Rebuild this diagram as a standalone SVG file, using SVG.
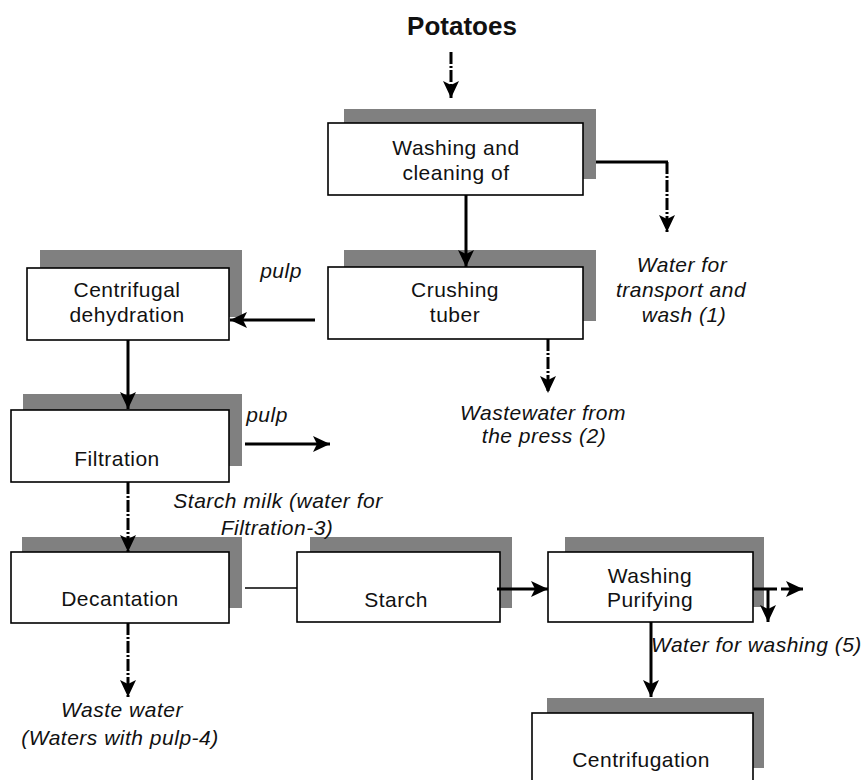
<svg xmlns="http://www.w3.org/2000/svg" width="866" height="780" viewBox="0 0 866 780">
<style>
.shadow{fill:#808080;stroke:none}
.box{fill:#ffffff;stroke:#000000;stroke-width:1.6}
.lbl{font-family:"Liberation Sans",Arial,sans-serif;font-size:21px;letter-spacing:0.5px;fill:#111111;text-anchor:middle}
.it{font-family:"Liberation Sans",Arial,sans-serif;font-size:21px;letter-spacing:0.5px;font-style:italic;fill:#111111}
.title{font-family:"Liberation Sans",Arial,sans-serif;font-size:26px;font-weight:bold;fill:#111111;text-anchor:middle}
.arr{stroke:#000000;stroke-width:3;fill:none}
.dash{stroke:#000000;stroke-width:3;fill:none;stroke-dasharray:12 2 2 2}
.thin{stroke:#000000;stroke-width:1.5;fill:none}
</style>
<defs>
<marker id="ah" markerUnits="userSpaceOnUse" markerWidth="17" markerHeight="16" refX="17" refY="8" orient="auto" viewBox="0 0 17 16">
<path d="M0,0 L17,8 L0,16 L4,8 z" fill="#000000"/>
</marker>
</defs>
<rect width="866" height="780" fill="#ffffff"/>

<text class="title" x="462" y="35">Potatoes</text>

<g id="washing">
<rect class="shadow" x="344" y="109" width="252" height="70"/>
<rect class="box" x="328" y="123" width="255" height="72"/>
<text class="lbl" x="456" y="155">Washing and</text>
<text class="lbl" x="456" y="180">cleaning of</text>
</g>

<g id="crushing">
<rect class="shadow" x="344" y="250" width="252" height="71"/>
<rect class="box" x="328" y="267" width="255" height="72"/>
<text class="lbl" x="455" y="297">Crushing</text>
<text class="lbl" x="455" y="322">tuber</text>
</g>

<g id="centrifugal">
<rect class="shadow" x="40" y="250" width="202" height="67"/>
<rect class="box" x="27" y="268" width="202" height="72"/>
<text class="lbl" x="127" y="297">Centrifugal</text>
<text class="lbl" x="127" y="322">dehydration</text>
</g>

<g id="filtration">
<rect class="shadow" x="23" y="394" width="219" height="72"/>
<rect class="box" x="11" y="410" width="218" height="72"/>
<text class="lbl" x="117" y="466">Filtration</text>
</g>

<g id="decantation">
<rect class="shadow" x="22" y="537" width="220" height="71"/>
<rect class="box" x="11" y="552" width="218" height="71"/>
<text class="lbl" x="120" y="606">Decantation</text>
</g>

<g id="starch">
<rect class="shadow" x="310" y="537" width="202" height="71"/>
<rect class="box" x="297" y="552" width="203" height="70"/>
<text class="lbl" x="396" y="607">Starch</text>
</g>

<g id="washing-purifying">
<rect class="shadow" x="565" y="537" width="199" height="70"/>
<rect class="box" x="548" y="552" width="205" height="70"/>
<text class="lbl" x="650" y="583">Washing</text>
<text class="lbl" x="650" y="607">Purifying</text>
</g>

<g id="centrifugation">
<rect class="shadow" x="547" y="698" width="217" height="70"/>
<rect class="box" x="532" y="713" width="221" height="80"/>
<text class="lbl" x="641" y="767">Centrifugation</text>
</g>

<g id="labels">
<text class="it" x="682" y="272" text-anchor="middle">Water for</text>
<text class="it" x="681" y="297" text-anchor="middle">transport and</text>
<text class="it" x="684" y="322" text-anchor="middle">wash (1)</text>
<text class="it" x="281" y="278" text-anchor="middle">pulp</text>
<text class="it" x="543" y="420" text-anchor="middle">Wastewater from</text>
<text class="it" x="544" y="443" text-anchor="middle">the press (2)</text>
<text class="it" x="267" y="422" text-anchor="middle">pulp</text>
<text class="it" x="278" y="508" text-anchor="middle">Starch milk (water for</text>
<text class="it" x="277" y="535" text-anchor="middle">Filtration-3)</text>
<text class="it" x="122" y="717" text-anchor="middle">Waste water</text>
<text class="it" x="120" y="745" text-anchor="middle">(Waters with pulp-4)</text>
<text class="it" x="651" y="652">Water for washing (5)</text>
</g>

<g id="connectors">
<line class="dash" x1="451" y1="52" x2="451" y2="98" marker-end="url(#ah)"/>
<line class="arr" x1="466" y1="195" x2="466" y2="267" marker-end="url(#ah)"/>
<line class="arr" x1="596" y1="162" x2="668" y2="162"/>
<line class="dash" x1="667" y1="162" x2="667" y2="232" marker-end="url(#ah)"/>
<line class="arr" x1="315" y1="320" x2="230" y2="320" marker-end="url(#ah)"/>
<line class="dash" x1="548" y1="339" x2="548" y2="393" marker-end="url(#ah)"/>
<line class="arr" x1="128" y1="340" x2="128" y2="409" marker-end="url(#ah)"/>
<line class="arr" x1="245" y1="444" x2="330" y2="444" marker-end="url(#ah)"/>
<line class="dash" x1="128" y1="482" x2="128" y2="552" marker-end="url(#ah)"/>
<line class="thin" x1="245" y1="588" x2="297" y2="588"/>
<line class="dash" x1="128" y1="623" x2="128" y2="697" marker-end="url(#ah)"/>
<line class="arr" x1="497" y1="589" x2="548" y2="589" marker-end="url(#ah)"/>
<line class="arr" x1="753" y1="589" x2="777" y2="589"/>
<line class="arr" x1="781" y1="589" x2="803" y2="589" marker-end="url(#ah)"/>
<line class="arr" x1="768" y1="589" x2="768" y2="622" marker-end="url(#ah)"/>
<line class="arr" x1="651" y1="622" x2="651" y2="697" marker-end="url(#ah)"/>
</g>
</svg>
